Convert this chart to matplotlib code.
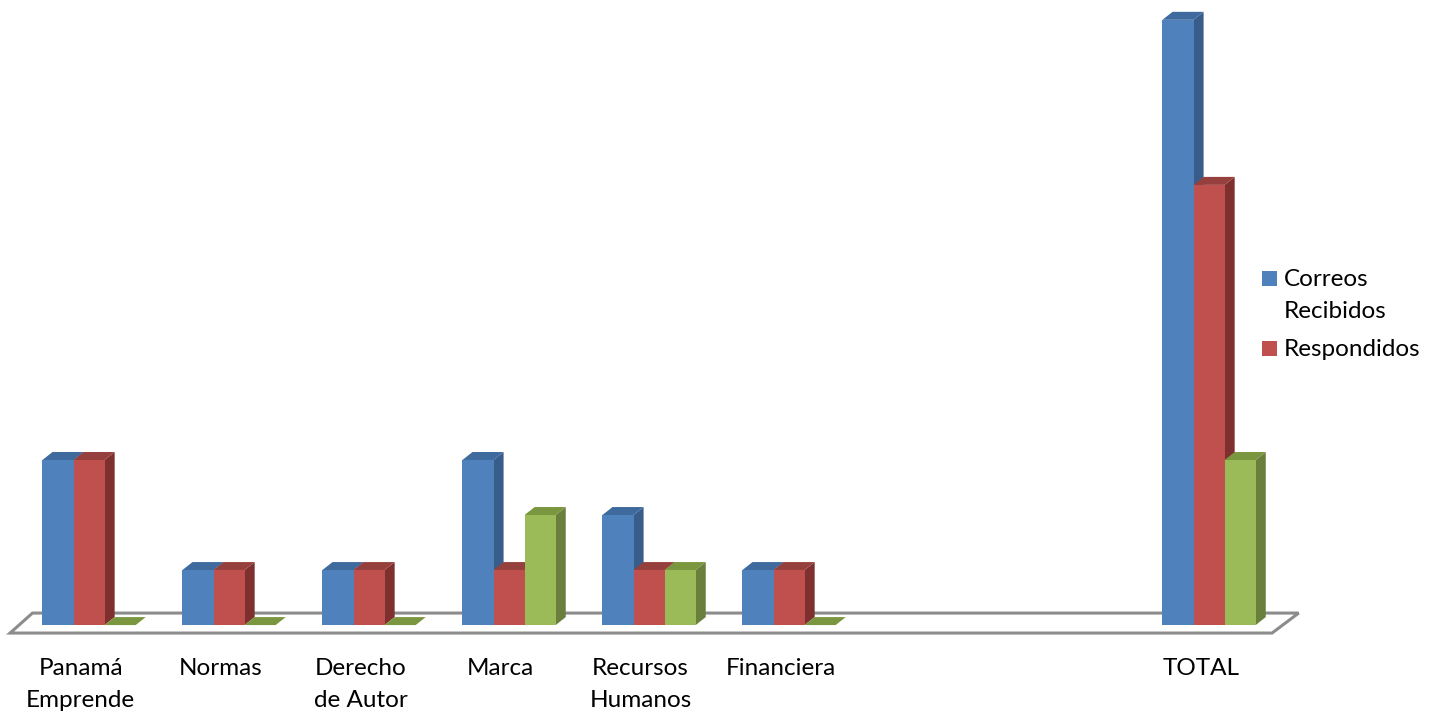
import matplotlib
matplotlib.use("Agg")
import matplotlib.pyplot as plt
from matplotlib.patches import Polygon, Rectangle

categories = ["Panamá\nEmprende", "Normas", "Derecho\nde Autor", "Marca",
              "Recursos\nHumanos", "Financiera", "", "", "TOTAL"]
correos_recibidos = [3, 1, 1, 3, 2, 1, 0, 0, 11]
respondidos = [3, 1, 1, 1, 1, 1, 0, 0, 8]
pendientes = [0, 0, 0, 2, 1, 0, 0, 0, 3]
series_labels = ["Correos\nRecibidos", "Respondidos"]

# front, side, top colours (Office 2007 style)
COLORS = [
    ("#4F81BD", "#385D8A", "#3F6A9E"),
    ("#C0504D", "#7E302E", "#96403D"),
    ("#9BBB59", "#6B7F3D", "#7A963F"),
]

BAR_W = 0.222
DX = 0.072   # depth offset in x units
DY = 0.145   # depth offset in value units
W, H = 1429, 712

fig = plt.figure(figsize=(W / 100, H / 100), dpi=100)
ax = fig.add_axes([0, 0, 1, 1])
ax.set_xlim(-0.636, 9.571)
ax.set_ylim(-1.58, 11.36)
ax.axis("off")

n = len(categories)

# floor
fl, fr = -0.564, n - 1 + 0.45
floor = Polygon([(fl, -0.145), (fr, -0.145), (fr + 0.19, 0.218), (fl + 0.16, 0.218)],
                closed=True, facecolor="white", edgecolor="#8C8C8C", lw=2.2, zorder=1)
ax.add_patch(floor)

z = 2
series = [correos_recibidos, respondidos, pendientes]
for i in range(n):
    if categories[i] == "":
        continue
    for s, vals in enumerate(series):
        h = vals[i]
        x0 = i + (s - 1.5) * BAR_W
        x1 = x0 + BAR_W
        front, side, top = COLORS[s]
        if h > 0:
            ax.add_patch(Polygon([(x1, 0), (x1 + DX, DY), (x1 + DX, h + DY), (x1, h)],
                                 closed=True, facecolor=side, edgecolor="none", zorder=z))
        ax.add_patch(Polygon([(x0, h), (x1, h), (x1 + DX, h + DY), (x0 + DX, h + DY)],
                             closed=True, facecolor=top, edgecolor="none", zorder=z))
        if h > 0:
            ax.add_patch(Rectangle((x0, 0), BAR_W, h, facecolor=front,
                                   edgecolor="none", zorder=z + 0.5))
        z += 1

for i, lab in enumerate(categories):
    if lab:
        ax.text(i - 0.06, -0.6, lab, ha="center", va="top", fontsize=17.5,
                family="Lato", color="black", linespacing=1.62)

# legend (only the first two series are listed, like the original)
leg_rows = [(271, series_labels[0].split("\n"), COLORS[0][0]),
            (341, series_labels[1].split("\n"), COLORS[1][0])]
for top_px, lines, col in leg_rows:
    fig.patches.append(Rectangle((1262 / W, 1 - (top_px + 15) / H), 15 / W, 15 / H,
                                 facecolor=col, edgecolor="none",
                                 transform=fig.transFigure, figure=fig))
    for k, line in enumerate(lines):
        fig.text(1284 / W, 1 - (top_px + 15 + 32 * k) / H, line, ha="left",
                 va="baseline", fontsize=17.5, family="Lato", color="black")

fig.savefig("out.png", dpi=100)
